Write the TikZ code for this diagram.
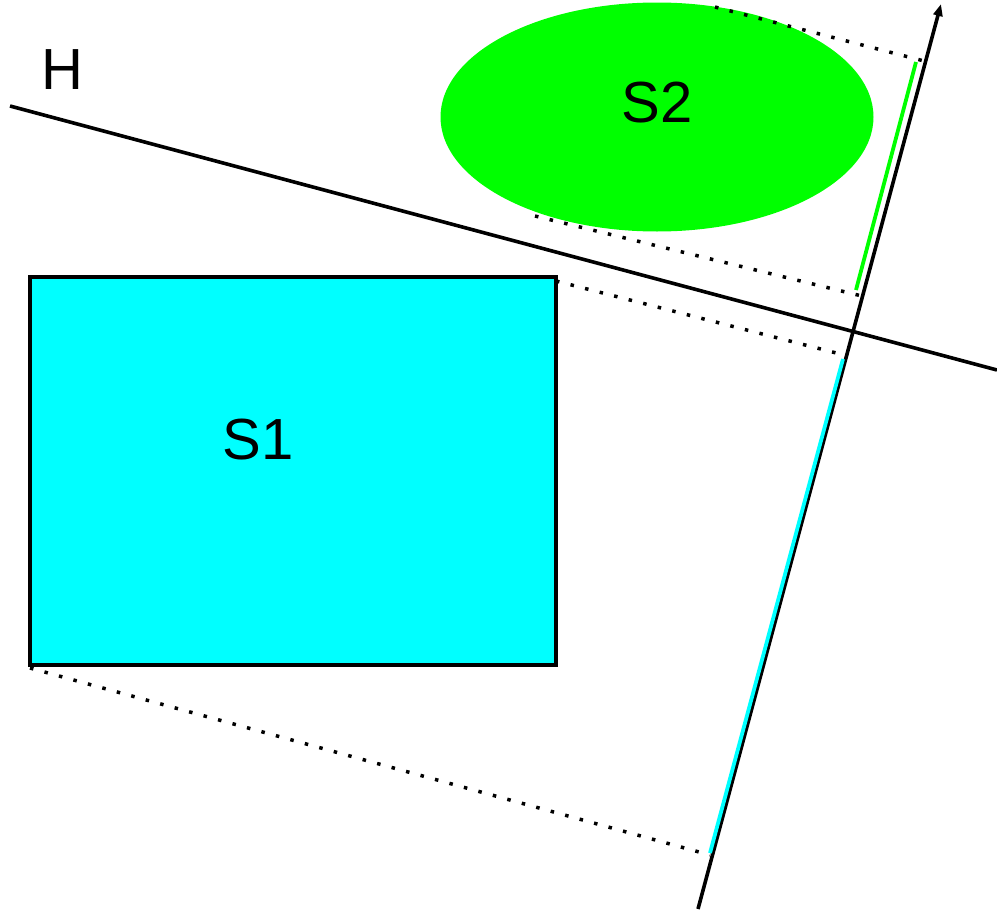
\documentclass[tikz,border=0pt]{standalone}
\usepackage{fontspec}
\setmainfont{Liberation Sans}
\usetikzlibrary{arrows.meta,shapes.geometric}
\definecolor{aqua}{RGB}{0,255,255}
\definecolor{lime}{RGB}{0,255,0}
\tikzset{
  solidline/.style={line width=3.6pt},
  dotline/.style={line width=3.5pt,dash pattern=on 3.5pt off 11.5pt},
  proj/.style={line width=3.8pt},
  lbl/.style={font=\fontsize{58}{60}\selectfont, inner sep=0pt},
}
\begin{document}
\begin{tikzpicture}[x=1pt,y=-1pt]
\useasboundingbox (0,0) rectangle (997,913);
% shapes
\node[ellipse, fill=lime, minimum width=433pt, minimum height=229pt, inner sep=0pt] (s2) at (657,117) {};
\node[rectangle, draw=black, fill=aqua, line width=3.2pt, minimum width=526pt, minimum height=388pt, inner sep=0pt] (s1) at (293,471) {};
\node[lbl] (l1) at (258,440) {S1};
\node[lbl] (l2) at (657,103) {S2};
\node[lbl] (lh) at (62,70) {H};
% coordinates
\coordinate (h1) at (10,106);
\coordinate (h2) at (997,370);
\coordinate (a1) at (698,909);
\coordinate (a2) at (941,4);
\coordinate (g1) at (916,62);
\coordinate (g2) at (856,290);
\coordinate (c1) at (843,359);
\coordinate (c2) at (710,853);
\coordinate (d1a) at (715,7);
\coordinate (d1b) at (928,62);
\coordinate (d2a) at (535,216);
\coordinate (d2b) at (870,298);
\coordinate (d3a) at (556,281);
\coordinate (d3b) at (848,356);
\coordinate (d4a) at (30,668);
\coordinate (d4b) at (710,855);
% lines
\draw[solidline] (h1) -- (h2);
\draw[solidline, -{Triangle[length=12pt,width=9pt]}] (a1) -- (a2);
\draw[proj, lime] (g1) -- (g2);
\draw[proj, aqua] (c1) -- (c2);
\draw[dotline] (d1a) -- (d1b);
\draw[dotline] (d2a) -- (d2b);
\draw[dotline] (d3a) -- (d3b);
\draw[dotline] (d4a) -- (d4b);
\end{tikzpicture}
\end{document}
